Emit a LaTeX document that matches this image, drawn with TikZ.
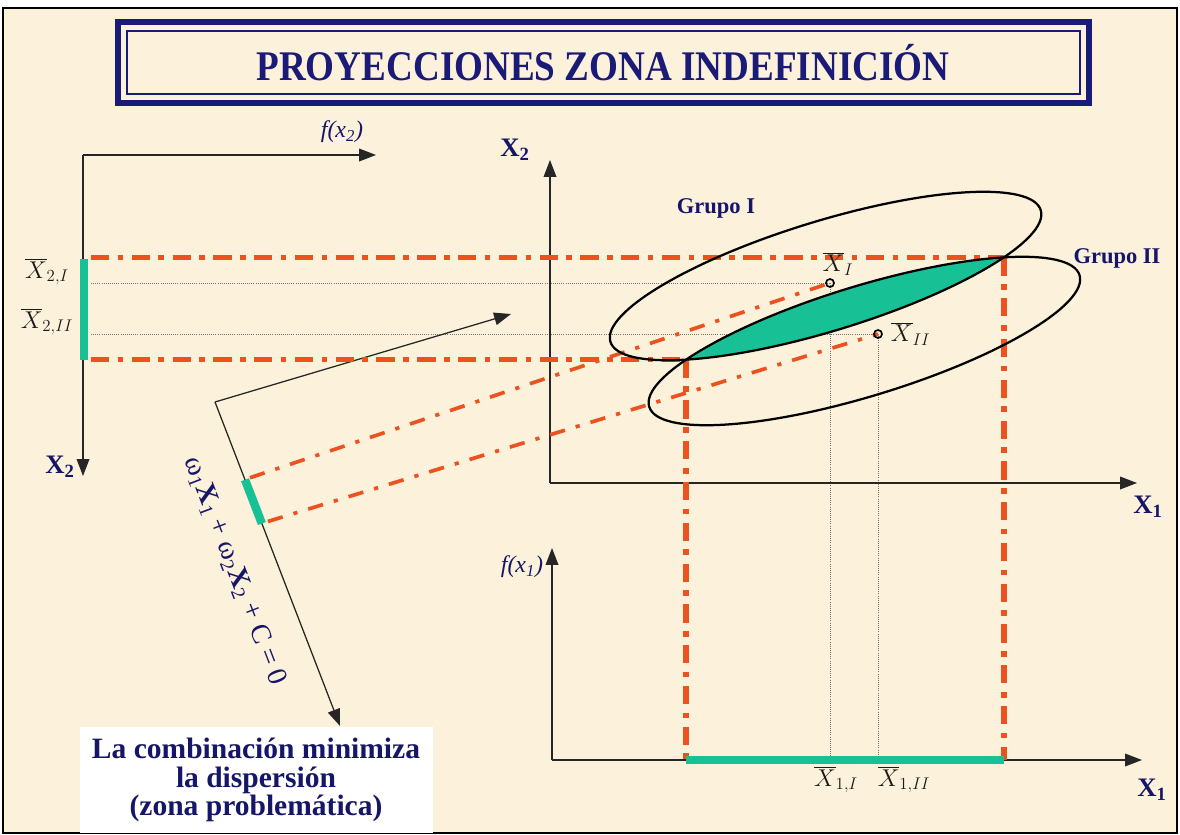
\documentclass[tikz,border=0pt]{standalone}
\usepackage{fontspec}
\setmainfont{Liberation Serif}
\usetikzlibrary{arrows.meta, calc}
\definecolor{paper}{RGB}{252,241,218}
\definecolor{navy}{RGB}{22,22,105}
\definecolor{titleblue}{RGB}{26,26,120}
\definecolor{zonered}{RGB}{236,82,32}
\definecolor{zonegreen}{RGB}{24,192,150}
\tikzstyle{axis} = [
    line width=0.9pt,
    black!85,
    -{Triangle[length=12pt,width=9pt]}
]
\tikzstyle{projthick} = [
    line width=4pt,
    zonered,
    dash pattern=on 13pt off 6pt on 4pt off 6pt
]
\tikzstyle{projthin} = [
    line width=2.6pt,
    zonered,
    dash pattern=on 11pt off 8pt on 3pt off 8pt
]
\tikzstyle{guide} = [line width=0.5pt, black!55, densely dotted]
\tikzstyle{zonebar} = [line width=6pt, zonegreen]
\tikzstyle{grupo} = [line width=1.6pt, black]
\tikzstyle{axislabel} = [text=navy, font=\bfseries\fontsize{19}{19}\selectfont]
\tikzstyle{funclabel} = [text=navy, font=\itshape\fontsize{17}{17}\selectfont]
\tikzstyle{meanlabel} = [text=black!90, font=\fontsize{17}{17}\selectfont]
\tikzstyle{grouplabel} = [text=navy, font=\bfseries\fontsize{16}{16}\selectfont]
\begin{document}
\begin{tikzpicture}[x=0.025cm, y=-0.025cm]
\useasboundingbox (0,0) rectangle (1180,835);
\fill[white] (0,0) rectangle (1180,835);
\draw[line width=1.4pt, fill=paper] (3,8) rectangle (1177,833);

\draw[line width=4.5pt, titleblue] (118,22) rectangle (1089,103);
\draw[line width=1.2pt, titleblue] (127,31) rectangle (1080,94);
\node (title) [text=titleblue, font=\bfseries\fontsize{30}{30}\selectfont] at (603,63)
{\scalebox{0.88}[1]{PROYECCIONES ZONA INDEFINICIÓN}};

\coordinate (lo) at (83,155);
\coordinate (lfx) at (376,155);
\coordinate (lx2) at (83,476);
\coordinate (lbar) at (91,0);
\coordinate (mo) at (550,483);
\coordinate (mx2) at (550,160);
\coordinate (mx1) at (1137,483);
\coordinate (bo) at (552,760);
\coordinate (bfx) at (552,548);
\coordinate (bx1) at (1142,760);
\coordinate (c1) at (825.6,276);
\coordinate (c2) at (864.4,341);
\coordinate (tipL) at (686,359.6);
\coordinate (tipR) at (1004,257.4);
\coordinate (mI) at (830,283);
\coordinate (mII) at (878,334);
\coordinate (pc) at (215,402);
\coordinate (pu) at (511,314);
\coordinate (pd) at (340,726);
\coordinate (pa) at ($(pc)!0.24!(pd)$);
\coordinate (pb) at ($(pc)!0.375!(pd)$);

\draw [guide] (mI -| lbar) -- (mI);
\draw [guide] (mII -| lbar) -- (mII);
\draw [guide] (mI) -- (mI |- bo);
\draw [guide] (mII) -- (mII |- bo);

\draw [axis] (lo) -- (lfx);
\draw [axis] (lo) -- (lx2);
\draw [axis] (mo) -- (mx2);
\draw [axis] (mo) -- (mx1);
\draw [axis] (bo) -- (bfx);
\draw [axis] (bo) -- (bx1);
\draw [axis] (pc) -- (pu);
\draw [axis] (pc) -- (pd);

\draw [projthick] (tipR -| lbar) -- (tipR);
\draw [projthick] (tipL -| lbar) -- (tipL);
\draw [projthick] (tipL) -- (tipL |- bo);
\draw [projthick] (tipR) -- (tipR |- bo);
\draw [projthin] (pa) ++(5,-2) -- (mI);
\draw [projthin] (pb) ++(6,-2) -- (mII);

\begin{scope}
\clip[rotate around={17:(c1)}] (c1) ellipse [x radius=225, y radius=55];
\fill[zonegreen, rotate around={17:(c2)}] (c2) ellipse [x radius=225, y radius=55];
\end{scope}
\draw [grupo, rotate around={17:(c1)}] (c1) ellipse [x radius=225, y radius=55];
\draw [grupo, rotate around={17:(c2)}] (c2) ellipse [x radius=225, y radius=55];

\draw [zonebar] (84,259) -- (84,360);
\draw [zonebar] (pa) -- (pb);
\draw [zonebar] (tipL |- bo) -- (tipR |- bo);

\draw [line width=1.2pt] (mI) circle [radius=4];
\draw [line width=1.2pt] (mII) circle [radius=4];

\node (lblfx2) [funclabel] at (342,132) {f(x\textsubscript{2})};
\node (lblx2l) [axislabel] at (60,467) {X\textsubscript{2}};
\node (lblx2m) [axislabel] at (515,150) {X\textsubscript{2}};
\node (lblx1m) [axislabel] at (1148,507) {X\textsubscript{1}};
\node (lblfx1) [funclabel] at (522,567) {f(x\textsubscript{1})};
\node (lblx1b) [axislabel] at (1152,790) {X\textsubscript{1}};
\node (m2I) [meanlabel] at (47,272) {$\overline{X}_{2,I}$};
\node (m2II) [meanlabel] at (47,322) {$\overline{X}_{2,II}$};
\node (mlI) [meanlabel] at (838,264) {$\overline{X}_{I}$};
\node (mlII) [meanlabel, anchor=west] at (886,334) {$\overline{X}_{II}$};
\node (m1I) [meanlabel] at (836,780) {$\overline{X}_{1,I}$};
\node (m1II) [meanlabel] at (904,780) {$\overline{X}_{1,II}$};
\node (grupoI) [grouplabel] at (716,208) {Grupo I};
\node (grupoII) [grouplabel] at (1117,258) {Grupo II};

\node (formula) [text=navy, rotate=-69, font=\fontsize{20}{20}\selectfont] at (235,571)
{ω\textsubscript{1}\textbf{X}\textsubscript{1} + ω\textsubscript{2}\textbf{X}\textsubscript{2} + C = 0};

\fill[white] (80,727) rectangle (433,833);
\node (nota) [text=navy, align=center, font=\bfseries\fontsize{21}{20}\selectfont] at (256,780)
{La combinación minimiza\\la dispersión\\(zona problemática)};
\end{tikzpicture}
\end{document}
